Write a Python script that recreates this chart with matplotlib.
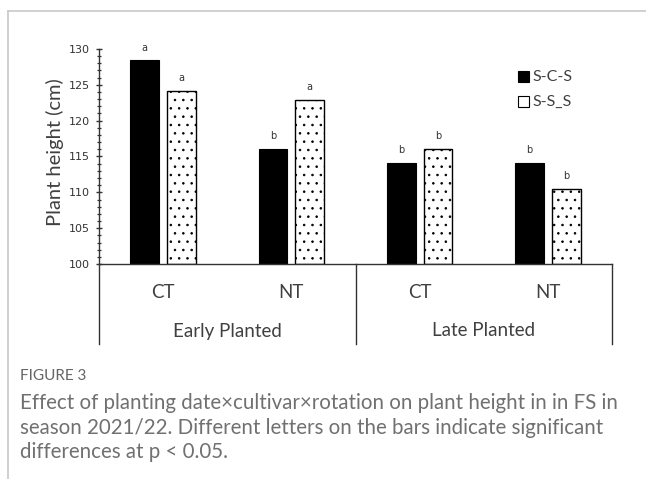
import matplotlib
matplotlib.use("Agg")
import matplotlib.pyplot as plt
from matplotlib.lines import Line2D
from matplotlib.patches import Rectangle
import numpy as np

plt.rcParams['hatch.linewidth'] = 0.6

tillage = ["CT", "NT", "CT", "NT"]
planting = ["Early Planted", "Late Planted"]
series_names = ["S-C-S", "S-S_S"]
scs = [128.4, 116.0, 114.1, 114.1]
sss = [124.1, 122.9, 116.0, 110.5]
letters_scs = ["a", "b", "b", "b"]
letters_sss = ["a", "a", "b", "b"]

W, H = 646, 479
fig = plt.figure(figsize=(W / 100, H / 100), dpi=100)

def fx(px):
    return px / W

def fy(py):
    return 1 - py / H

# panel frame
fig.add_artist(Line2D([fx(8), 1], [fy(11), fy(11)], color="#c8c8c8", lw=1.2))
fig.add_artist(Line2D([fx(8), fx(8)], [fy(11), 0], color="#c8c8c8", lw=1.2))

ax = fig.add_axes([fx(99), fy(264), fx(612) - fx(99), fy(49) - fy(264)])
ax.set_xlim(-0.5, 3.5)
ax.set_ylim(100, 130)

x = np.arange(len(tillage))
bw = 0.225
gap = 0.0625
ax.bar(x - bw / 2 - gap / 2, [v - 100 for v in scs], bw, bottom=100,
       color="black", edgecolor="black", lw=0.8, label=series_names[0])
ax.bar(x + bw / 2 + gap / 2, [v - 100 for v in sss], bw, bottom=100,
       color="white", edgecolor="black", lw=1.0, hatch="..", label=series_names[1])

for i in range(len(tillage)):
    ax.text(x[i] - bw / 2 - gap / 2, scs[i] + 1.1, letters_scs[i], ha="center",
            va="bottom", fontsize=7, color="#333333")
    ax.text(x[i] + bw / 2 + gap / 2, sss[i] + 1.1, letters_sss[i], ha="center",
            va="bottom", fontsize=7, color="#333333")

for s in ["top", "right"]:
    ax.spines[s].set_visible(False)
ax.spines["left"].set_color("#333333")
ax.spines["bottom"].set_color("#333333")
ax.spines["left"].set_linewidth(1.0)
ax.spines["bottom"].set_linewidth(1.0)

ax.set_yticks(np.arange(100, 131, 5))
ax.set_yticks(np.arange(100, 131, 1), minor=True)
ax.tick_params(axis="y", which="major", direction="inout", length=5, width=1,
               labelsize=8, colors="#333333", pad=4)
ax.tick_params(axis="y", which="minor", direction="inout", length=3.5, width=0.9,
               colors="#333333")
ax.set_xticks([])

fig.text(fx(55), fy(152), "Plant height (cm)", rotation=90, ha="center",
         va="center", fontsize=14.5, color="#404040", family="Lato")

# category lines below axis
for xp in [99, 356, 612]:
    fig.add_artist(Line2D([fx(xp), fx(xp)], [fy(264), fy(344)],
                          color="#333333", lw=1.0))

for i, lab in enumerate(tillage):
    xd = ax.transData.transform((x[i], 100))[0]
    fig.text(xd / W, fy(292), lab, ha="center", va="center", fontsize=13.5,
             color="#404040", family="Lato")
for j, lab in enumerate(planting):
    fig.text(fx([227.5, 484][j]), fy(331), lab, ha="center", va="center",
             fontsize=13.5, color="#404040", family="Lato")

# legend
fig.add_artist(Rectangle((fx(518), fy(82)), fx(11), fy(71) - fy(82),
                         facecolor="black", edgecolor="black", lw=0.8))
fig.add_artist(Rectangle((fx(518), fy(107)), fx(11), fy(96) - fy(107),
                         facecolor="white", edgecolor="black", lw=0.8, hatch="."))
fig.text(fx(532), fy(77), series_names[0], ha="left", va="center",
         fontsize=11.5, color="#404040", family="Lato")
fig.text(fx(532), fy(102), series_names[1], ha="left", va="center",
         fontsize=11.5, color="#404040", family="Lato")

# caption
fig.text(fx(20), fy(376), "FIGURE 3", ha="left", va="center", fontsize=11,
         color="#666666", family="Lato")
caption = ["Effect of planting date\u00d7cultivar\u00d7rotation on plant height in in FS in",
           "season 2021/22. Different letters on the bars indicate significant",
           "differences at p < 0.05."]
for k, line in enumerate(caption):
    fig.text(fx(20), fy(403 + 24.5 * k), line, ha="left", va="center",
             fontsize=14.8, color="#707070", family="Lato")

fig.savefig("out.png", dpi=100)
